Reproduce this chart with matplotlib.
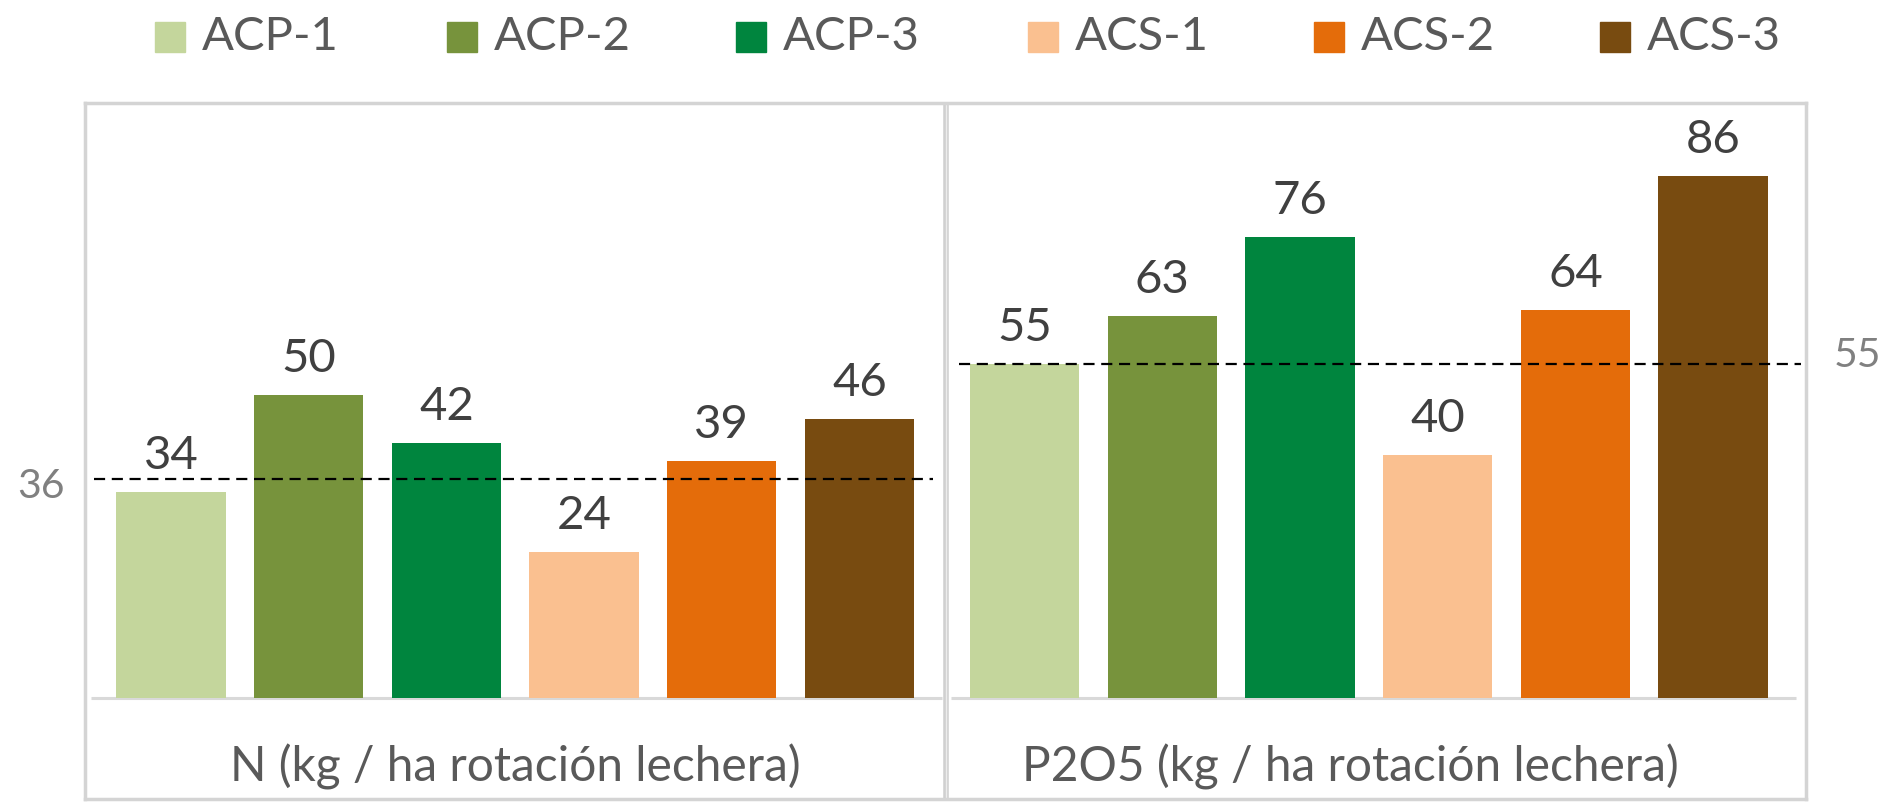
import numpy as np
import matplotlib
matplotlib.use("Agg")
import matplotlib.pyplot as plt
from matplotlib.patches import Rectangle

plt.rcParams['font.family'] = ['Lato', 'DejaVu Sans']

categories = ["N (kg / ha rotación lechera)", "P2O5 (kg / ha rotación lechera)"]
series = ["ACP-1", "ACP-2", "ACP-3", "ACS-1", "ACS-2", "ACS-3"]
colors = ["#C4D69C", "#77933C", "#00853E", "#FAC090", "#E46C0A", "#784B10"]
values = {
    "ACP-1": [34, 55],
    "ACP-2": [50, 63],
    "ACP-3": [42, 76],
    "ACS-1": [24, 40],
    "ACS-2": [39, 64],
    "ACS-3": [46, 86],
}
ref_values = [36, 55]

W, H = 1888, 802
fig = plt.figure(figsize=(W / 100, H / 100), dpi=100)
ax = fig.add_axes([85 / W, 3 / H, (1806 - 85) / W, (799 - 103) / H])

x = np.array([0.0, 0.992])  # right group sits a little left of centre
pitch = 0.16
width = 0.127
for i, s in enumerate(series):
    xs = x + (i - 2.5) * pitch
    bars = ax.bar(xs, values[s], width, color=colors[i], zorder=2)
    for b, v in zip(bars, values[s]):
        ax.annotate(str(v), xy=(b.get_x() + b.get_width() / 2, v),
                    xytext=(0, 16.5), textcoords="offset points",
                    ha="center", va="baseline", fontsize=34, color="#404040")

ax.set_xlim(-0.5, 1.5)
ax.set_ylim(-101 / 6.07, 595 / 6.07)

# baselines per panel
ax.hlines(0, -0.493, 0.4965, color="#d9d9d9", lw=2.2, zorder=1)
ax.hlines(0, 0.506, 1.488, color="#d9d9d9", lw=2.2, zorder=1)

# reference lines
ax.hlines(ref_values[0], -0.49, 0.486, color="black", lw=1.6, ls=(0, (5, 3)), zorder=3)
ax.hlines(ref_values[1], 0.516, 1.494, color="black", lw=1.6, ls=(0, (5, 3)), zorder=3)
ax.annotate(str(ref_values[0]), xy=(-0.5, ref_values[0]), xytext=(-32, -5),
            textcoords="offset points", ha="center", va="center",
            fontsize=29.5, color="#808080", annotation_clip=False)
ax.annotate(str(ref_values[1]), xy=(1.5, ref_values[1]), xytext=(37, 6),
            textcoords="offset points", ha="center", va="center",
            fontsize=29.5, color="#808080", annotation_clip=False)

# panel divider
ax.axvline(0.5, color="#d0d0d0", lw=4, zorder=1)
ax.axvline(0.5, color="#ececec", lw=1, zorder=1)

label_x = [0.0, 0.971]
for xi, cat in zip(label_x, categories):
    ax.text(xi, -84 / 6.07, cat, ha="center", va="baseline", fontsize=34.5, color="#595959")

ax.set_xticks([])
ax.set_yticks([])
for sp in ax.spines.values():
    sp.set_color("#d4d4d4")
    sp.set_linewidth(2.5)

# legend
leg_x = [155, 447, 736, 1028, 1314, 1600]
for lx, s, c in zip(leg_x, series, colors):
    fig.patches.append(Rectangle((lx / W, 1 - 52 / H), 30 / W, 30 / H,
                                 transform=fig.transFigure, color=c))
    fig.text((lx + 47) / W, 1 - 50 / H, s, ha="left", va="baseline",
             fontsize=34, color="#595959")

fig.savefig("out.png", dpi=100, facecolor="white")
